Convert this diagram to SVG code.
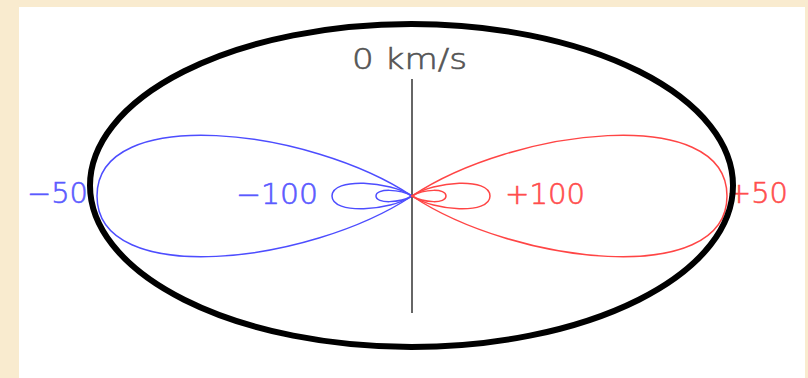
<svg xmlns="http://www.w3.org/2000/svg" width="808" height="378" viewBox="0 0 808 378">
<style>
.blue{fill:none;stroke:#4d4dff;stroke-width:1.5}
.red{fill:none;stroke:#ff4545;stroke-width:1.5}
.lab{font-family:"DejaVu Sans","Liberation Sans",Arial,sans-serif;font-weight:200;font-size:28px;stroke-width:0.6}
.tb{fill:#5a5aff;stroke:#5a5aff}
.tr{fill:#ff4d4d;stroke:#ff4d4d}
.tg{fill:#555555;stroke:#555555}
</style>
<rect x="0" y="0" width="808" height="378" fill="#f9ebcf"/>
<rect x="19" y="7" width="786" height="371" fill="#ffffff"/>
<g id="axis">
<line x1="412" y1="79" x2="412" y2="313" stroke="#666666" stroke-width="2"/>
<text class="lab tg" x="352" y="69" textLength="115" lengthAdjust="spacingAndGlyphs">0 km/s</text>
</g>
<g id="loops-blue">
<path class="blue" d="M412 196 C310 128 97 103 97 196 C97 289 310 264 412 196 Z"/>
<path class="blue" d="M412 196 C390 181 332 177 332 196 C332 215 390 211 412 196 Z"/>
<path class="blue" d="M412 196 C400 189 376 188 376 196 C376 204 400 203 412 196 Z"/>
</g>
<g id="loops-red">
<path class="red" d="M412 196 C514 128 727 103 727 196 C727 289 514 264 412 196 Z"/>
<path class="red" d="M412 196 C434 181 490 177 490 196 C490 215 434 211 412 196 Z"/>
<path class="red" d="M412 196 C424 189 446 188 446 196 C446 204 424 203 412 196 Z"/>
</g>
<g id="labels">
<text class="lab tb" x="27" y="203" textLength="61" lengthAdjust="spacingAndGlyphs">−50</text>
<text class="lab tb" x="236" y="204" textLength="82" lengthAdjust="spacingAndGlyphs">−100</text>
<text class="lab tr" x="505" y="204" textLength="80" lengthAdjust="spacingAndGlyphs">+100</text>
<text class="lab tr" x="727" y="203" textLength="61" lengthAdjust="spacingAndGlyphs">+50</text>
</g>
<g id="boundary">
<ellipse cx="411.5" cy="185.5" rx="321.5" ry="161.5" fill="none" stroke="#000000" stroke-width="6"/>
</g>
</svg>
